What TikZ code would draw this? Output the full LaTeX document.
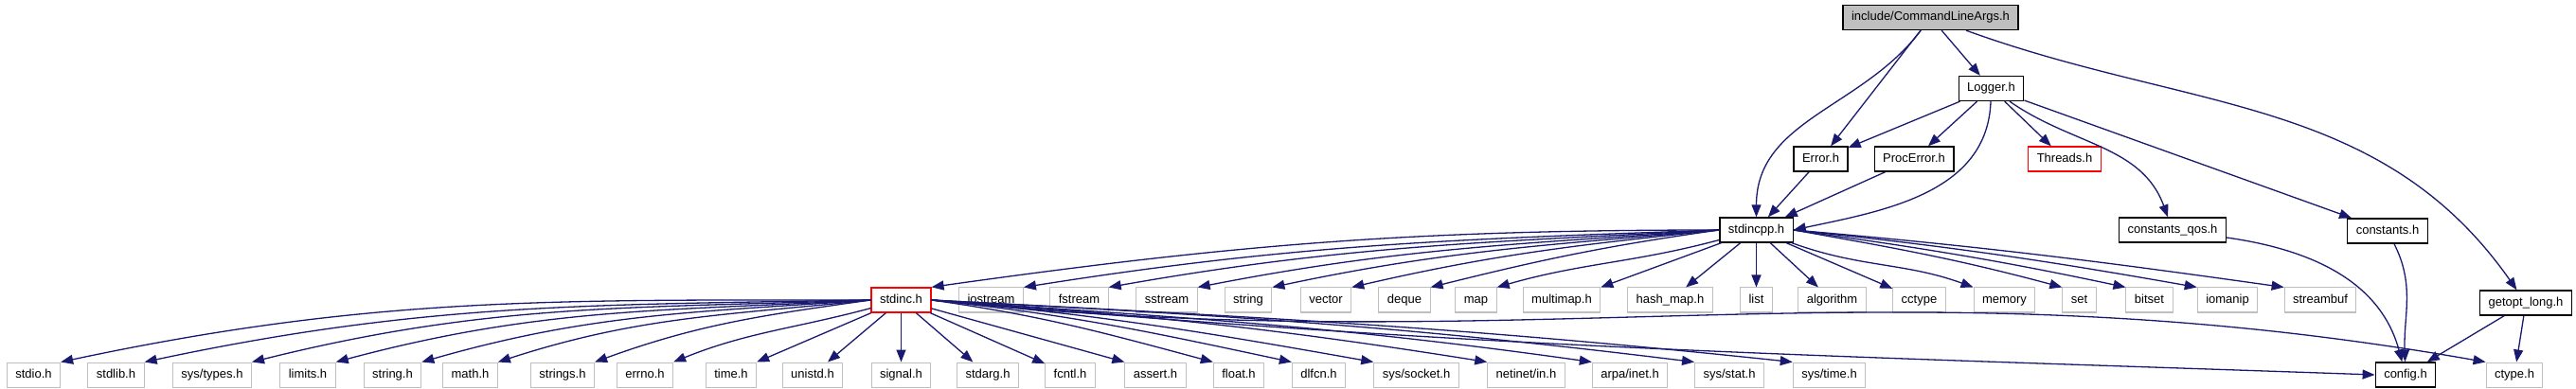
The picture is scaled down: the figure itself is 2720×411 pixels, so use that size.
\documentclass[tikz,border=0pt]{standalone}
\usepackage{fontspec}
\setmainfont{Liberation Sans}
\usetikzlibrary{arrows.meta}
\definecolor{edgeblue}{RGB}{25,25,112}
\definecolor{boxgray}{RGB}{191,191,191}

\begin{document}
\begin{tikzpicture}[
            x=0.5pt, y=0.5pt,
            hfile/.style={draw=black, line width=0.65pt, fill=white, minimum height=13pt, inner xsep=4.5pt, inner ysep=0pt, text height=4.75pt, text depth=1.5pt, font=\fontsize{6.5}{7.5}\selectfont},
            sysfile/.style={hfile, draw=boxgray, line width=0.5pt},
            redfile/.style={hfile, draw=red},
            rootfile/.style={hfile, fill=boxgray},
            arrow/.style={-{Triangle[length=6.5pt, width=5pt]}, draw=edgeblue, line width=0.65pt}
        ]
        \useasboundingbox (0,0) rectangle (2720,-411);

        % --- headers ---
        \node[rootfile] (cla) at (2038.5,-18.5) {include/CommandLineArgs.h};
        \node[hfile] (logger) at (2102.5,-93.5) {Logger.h};
        \node[hfile] (error) at (1922.5,-168) {Error.h};
        \node[hfile] (procerror) at (2021,-168) {ProcError.h};
        \node[redfile] (threads) at (2180,-168) {Threads.h};
        \node[hfile] (stdincpp) at (1854.5,-243) {stdincpp.h};
        \node[hfile] (cqos) at (2294,-243) {constants\_qos.h};
        \node[hfile] (constants) at (2521,-244) {constants.h};

        % --- row of stdincpp.h includes ---
        \node[redfile] (stdinc) at (951.5,-317) {stdinc.h};
        \node[sysfile] (iostream) at (1046.5,-317) {iostream};
        \node[sysfile] (fstream) at (1139.5,-317) {fstream};
        \node[sysfile] (sstream) at (1232,-317) {sstream};
        \node[sysfile] (string) at (1318,-317) {string};
        \node[sysfile] (vector) at (1400,-317) {vector};
        \node[sysfile] (deque) at (1483,-317) {deque};
        \node[sysfile] (map) at (1558.5,-317) {map};
        \node[sysfile] (multimap) at (1649,-317) {multimap.h};
        \node[sysfile] (hashmap) at (1763.5,-317) {hash\_map.h};
        \node[sysfile] (list) at (1854.5,-317) {list};
        \node[sysfile] (algorithm) at (1934.5,-317) {algorithm};
        \node[sysfile] (cctype) at (2026.5,-317) {cctype};
        \node[sysfile] (memory) at (2116.5,-317) {memory};
        \node[sysfile] (set) at (2195.5,-317) {set};
        \node[sysfile] (bitset) at (2269.5,-317) {bitset};
        \node[sysfile] (iomanip) at (2352,-317) {iomanip};
        \node[sysfile] (streambuf) at (2450,-317) {streambuf};
        \node[hfile] (getopt) at (2667,-320) {getopt\_long.h};

        % --- row of stdinc.h includes ---
        \node[sysfile] (stdio) at (35.5,-396) {stdio.h};
        \node[sysfile] (stdlib) at (122.5,-396) {stdlib.h};
        \node[sysfile] (systypes) at (224,-396) {sys/types.h};
        \node[sysfile] (limits) at (325,-396) {limits.h};
        \node[sysfile] (stringh) at (414.5,-396) {string.h};
        \node[sysfile] (math) at (496.5,-396) {math.h};
        \node[sysfile] (strings) at (594,-396) {strings.h};
        \node[sysfile] (errno) at (681,-396) {errno.h};
        \node[sysfile] (time) at (772,-396) {time.h};
        \node[sysfile] (unistd) at (858,-396) {unistd.h};
        \node[sysfile] (signal) at (951.5,-396) {signal.h};
        \node[sysfile] (stdarg) at (1043,-396) {stdarg.h};
        \node[sysfile] (fcntl) at (1130,-396) {fcntl.h};
        \node[sysfile] (assert) at (1220,-396) {assert.h};
        \node[sysfile] (float) at (1308,-396) {float.h};
        \node[sysfile] (dlfcn) at (1392.5,-396) {dlfcn.h};
        \node[sysfile] (syssocket) at (1495.5,-396) {sys/socket.h};
        \node[sysfile] (netinet) at (1611.5,-396) {netinet/in.h};
        \node[sysfile] (arpa) at (1721,-396) {arpa/inet.h};
        \node[sysfile] (sysstat) at (1826,-396) {sys/stat.h};
        \node[sysfile] (systime) at (1931.5,-396) {sys/time.h};
        \node[hfile] (config) at (2540,-396) {config.h};
        \node[sysfile] (ctype) at (2655,-396) {ctype.h};

        % --- CommandLineArgs.h and Logger.h ---
        \draw[arrow] (cla) to[out=-127, in=90] (stdincpp);
        \draw[arrow] (cla) -- (error);
        \draw[arrow] (cla) -- (logger);
        \draw[arrow] (cla) to[out=-20, in=125] (getopt);
        \draw[arrow] (logger) -- (error);
        \draw[arrow] (logger) -- (procerror);
        \draw[arrow] (logger) -- (threads);
        \draw[arrow] (logger) to[out=-92, in=12] (stdincpp.east);
        \draw[arrow] (logger) to[out=-35, in=110] (cqos);
        \draw[arrow] (logger) -- (constants);
        \draw[arrow] (error) -- (stdincpp);
        \draw[arrow] (procerror) -- (stdincpp);

        % --- stdincpp.h ---
        \draw[arrow] (stdincpp.west) to[out=180, in=8] (stdinc.north east);
        \draw[arrow] (stdincpp.west) to[out=182, in=9] (iostream.north east);
        \draw[arrow] (stdincpp.west) to[out=183, in=10] (fstream.north east);
        \draw[arrow] (stdincpp.west) to[out=184, in=11] (sstream.north east);
        \draw[arrow] (stdincpp.west) to[out=185, in=12] (string.north east);
        \draw[arrow] (stdincpp.west) to[out=186, in=13] (vector.north east);
        \draw[arrow] (stdincpp.west) to[out=188, in=14] (deque.north east);
        \draw[arrow] (stdincpp) to[out=195, in=16] (map.north east);
        \draw[arrow] (stdincpp) -- (multimap.north east);
        \draw[arrow] (stdincpp) -- (hashmap);
        \draw[arrow] (stdincpp) -- (list);
        \draw[arrow] (stdincpp) -- (algorithm);
        \draw[arrow] (stdincpp) -- (cctype);
        \draw[arrow] (stdincpp) to[out=-20, in=160] (memory.north west);
        \draw[arrow] (stdincpp.east) to[out=-10, in=165] (set.north west);
        \draw[arrow] (stdincpp.east) to[out=-8, in=168] (bitset.north west);
        \draw[arrow] (stdincpp.east) to[out=-6, in=170] (iomanip.north west);
        \draw[arrow] (stdincpp.east) to[out=-5, in=172] (streambuf.north west);

        % --- stdinc.h ---
        \draw[arrow] (stdinc.west) to[out=180, in=12] (stdio.north east);
        \draw[arrow] (stdinc.west) to[out=181, in=12] (stdlib.north east);
        \draw[arrow] (stdinc.west) to[out=182, in=14] (systypes.north east);
        \draw[arrow] (stdinc.west) to[out=183, in=15] (limits.north east);
        \draw[arrow] (stdinc.west) to[out=184, in=16] (stringh.north east);
        \draw[arrow] (stdinc.west) to[out=186, in=18] (math.north east);
        \draw[arrow] (stdinc.west) to[out=188, in=20] (strings.north east);
        \draw[arrow] (stdinc) to[out=195, in=22] (errno.north east);
        \draw[arrow] (stdinc) -- (time.north east);
        \draw[arrow] (stdinc) -- (unistd);
        \draw[arrow] (stdinc) -- (signal);
        \draw[arrow] (stdinc) -- (stdarg);
        \draw[arrow] (stdinc) -- (fcntl);
        \draw[arrow] (stdinc) -- (assert.north west);
        \draw[arrow] (stdinc.east) to[out=-8, in=165] (float.north west);
        \draw[arrow] (stdinc.east) to[out=-6, in=168] (dlfcn.north west);
        \draw[arrow] (stdinc.east) to[out=-5, in=170] (syssocket.north west);
        \draw[arrow] (stdinc.east) to[out=-4, in=171] (netinet.north west);
        \draw[arrow] (stdinc.east) to[out=-4, in=172] (arpa.north west);
        \draw[arrow] (stdinc.east) to[out=-3, in=173] (sysstat.north west);
        \draw[arrow] (stdinc.east) to[out=-3, in=174] (systime.north west);
        \draw[arrow] (stdinc.east) to[out=-5, in=178] (config.west);
        \draw[arrow] (stdinc.east) to[out=-6, in=170] (ctype.north west);

        % --- into config.h ---
        \draw[arrow] (cqos) to[out=-8, in=105] (config);
        \draw[arrow] (constants) to[out=-63, in=92] (config);
        \draw[arrow] (getopt) -- (config);
        \draw[arrow] (getopt) -- (ctype);

        \end{tikzpicture}
\end{document}
